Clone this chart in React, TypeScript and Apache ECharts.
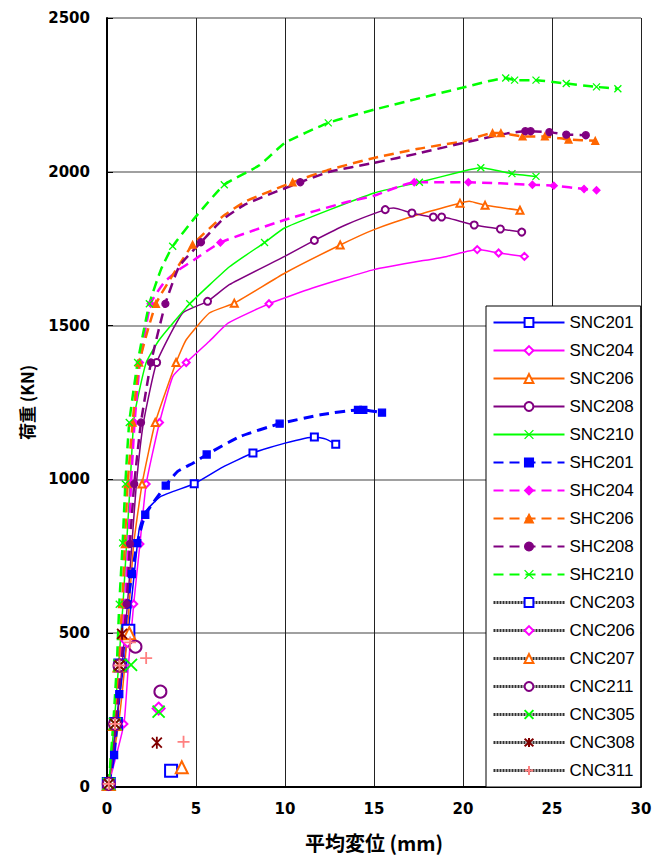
import React, { useEffect, useRef } from "react";
import * as echarts from "echarts";

// x: 平均変位 (mm), y: 荷重 (kN); third value 1 = marked point
const SNC201 = [[0.1,10,1],[0.6,250,0],[1.2,510,1],[1.8,836,0],[2.1,891,0],[3.0,944,0],[4.9,986,1],[6.5,1040,0],[8.2,1086,1],[10,1118,0],[11.65,1138,1],[12.3,1131,0],[12.85,1114,1]];
const SNC204 = [[0.1,10,1],[0.95,205,1],[1.2,395,0],[1.5,595,1],[1.85,790,1],[2.2,985,1],[2.95,1185,1],[3.7,1335,0],[4.45,1380,1],[5.75,1449,0],[6.8,1508,0],[9.1,1571,1],[11.55,1622,0],[15,1682,0],[19.1,1725,0],[20.8,1747,1],[22.0,1736,1],[23.45,1725,1]];
const SNC206 = [[0.1,10,1],[0.65,205,0],[1.0,395,0],[1.25,595,0],[1.5,790,0],[1.97,985,1],[2.71,1185,1],[3.88,1380,1],[4.45,1454,0],[5.75,1541,0],[7.15,1573,1],[10,1671,0],[13.1,1762,1],[15,1812,0],[17.5,1861,0],[19.83,1898,1],[20.35,1904,0],[21.24,1891,1],[23.2,1875,1]];
const SNC208 = [[0.1,10,1],[0.55,205,0],[0.85,395,0],[1.15,595,0],[1.4,790,0],[1.65,985,0],[2.05,1185,0],[2.79,1380,1],[4.25,1541,0],[5.65,1579,1],[6.87,1633,0],[9.98,1725,0],[11.65,1777,1],[13.43,1828,0],[15.63,1877,1],[16.1,1882,0],[17.13,1866,1],[18.33,1853,1],[18.8,1853,1],[20.63,1827,1],[22.1,1814,1],[23.3,1804,1]];
const SNC210 = [[0.1,10,1],[0.4,205,0],[0.65,395,0],[0.9,595,0],[1.1,790,0],[1.3,985,0],[1.53,1205,0],[2.19,1378,0],[2.94,1454,0],[4.65,1571,1],[6.9,1692,0],[8.85,1770,1],[10,1818,0],[15,1931,0],[17.55,1966,1],[19.94,2001,0],[21,2013,1],[22.75,1994,1],[24.1,1985,1]];
const SHC201 = [[0.1,10,1],[0.4,104,1],[0.69,302,1],[1.15,594,1],[1.4,692,1],[1.7,793,1],[2.15,885,1],[3.3,980,1],[3.97,1026,0],[4.9,1055,0],[5.6,1081,1],[7.5,1140,0],[9.7,1181,1],[12,1210,0],[14.1,1226,1],[14.4,1226,1],[15.45,1217,1]];
const SHC204 = [[0.1,10,1],[0.45,205,1],[0.7,395,1],[1.0,595,1],[1.2,790,1],[1.35,985,1],[1.55,1185,1],[1.85,1380,1],[2.45,1571,1],[3.2,1640,0],[4.0,1680,0],[4.9,1714,0],[6.37,1770,1],[10,1844,0],[13.43,1901,0],[15,1922,0],[17.26,1966,1],[20.3,1966,1],[23.9,1958,1],[25.1,1955,1],[26.8,1944,1],[27.5,1940,1]];
const SHC206 = [[0.1,10,1],[0.4,205,1],[0.65,395,1],[0.85,595,1],[1.0,790,1],[1.16,985,1],[1.44,1185,1],[1.81,1380,1],[2.75,1571,1],[3.88,1682,0],[4.81,1763,1],[6.5,1855,0],[7.8,1904,0],[10.43,1966,1],[12.49,2007,0],[15,2045,0],[17.5,2075,0],[19.98,2099,0],[21.66,2126,1],[22.13,2126,1],[23.35,2115,1],[24.6,2115,1],[25.93,2105,1],[27.43,2101,1]];
const SHC208 = [[0.1,10,1],[0.5,205,1],[0.8,395,1],[1.1,595,1],[1.29,790,1],[1.53,985,1],[1.91,1185,1],[2.47,1380,1],[3.28,1571,1],[4.06,1693,0],[5.28,1771,1],[6.5,1845,0],[7.8,1895,0],[10.86,1966,1],[12.5,2000,0],[15,2029,0],[17.5,2060,0],[20,2094,0],[22.5,2125,0],[23.5,2132,1],[23.8,2132,1],[24.85,2129,1],[25.8,2121,1],[26.9,2119,1]];
const SHC210 = [[0.1,10,1],[0.35,205,1],[0.55,395,1],[0.69,594,1],[0.88,793,1],[1.03,985,1],[1.25,1185,1],[1.72,1380,1],[2.38,1571,1],[3.03,1682,0],[3.69,1758,1],[5.0,1855,0],[6.59,1958,1],[8.56,2021,0],[10,2094,0],[12.43,2159,1],[15,2202,0],[19.94,2273,0],[22.4,2305,1],[22.9,2298,1],[24.1,2298,1],[25.8,2287,1],[27.5,2276,1],[28.7,2270,1]];
const CNC203 = [[0.1,10],[0.5,205],[0.75,395],[1.2,508],[3.6,53]];
const CNC206 = [[0.1,10],[0.5,205],[0.75,395],[1.15,475],[2.9,255]];
const CNC207 = [[0.1,10],[0.45,205],[0.7,395],[1.25,500],[4.2,64]];
const CNC211 = [[0.1,10],[0.45,205],[0.7,395],[1.6,456],[3.0,310]];
const CNC305 = [[0.1,10],[0.45,205],[0.7,395],[1.35,397],[2.9,245]];
const CNC308 = [[0.1,10],[0.45,205],[0.7,395],[0.85,498],[2.8,144]];
const CNC311 = [[0.1,10],[0.45,205],[0.7,395],[1.3,470],[2.2,419],[4.3,147]];

const X_TICKS = { min: 0, max: 30, interval: 5 };
const Y_TICKS = { min: 0, max: 2500, interval: 500 };

const BLUE = "#0000ff", MAG = "#ff00ff", ORG = "#ff6600", PUR = "#800080", GRN = "#00ff00", DRED = "#800000", SAL = "#ff8080";
const XSYM = "path://M0,0L10,10M10,0L0,10";
const ASTER = "path://M0,0L10,10M10,0L0,10M5,-1L5,11";
const PLUS = "path://M5,0L5,10M0,5L10,5";

function pts(arr: number[][]) {
  return arr.map((p) => (p[2] === 0 ? { value: [p[0], p[1]], symbol: "none" } : { value: [p[0], p[1]] }));
}

function sSeries(name: string, data: number[][], color: string, symbol: string, dashed: boolean, thick = false) {
  return {
    name,
    type: "line",
    data: pts(data),
    symbol,
    symbolSize: 7,
    symbolKeepAspect: true,
    smooth: 0.15,
    lineStyle: { color, width: dashed ? (thick ? 3 : 2.5) : 1.5, type: dashed ? [10, 6] : "solid" },
    itemStyle: { color, borderColor: color, borderWidth: 1.3 },
    z: 2,
  };
}

function cSeries(name: string, data: number[][], color: string, symbol: string) {
  return {
    name,
    type: "line",
    data,
    symbol,
    symbolSize: 12,
    symbolKeepAspect: true,
    lineStyle: { color: "rgba(0,0,0,0)", width: 3 },
    itemStyle: { color, borderColor: color, borderWidth: 1.8 },
    z: 3,
  };
}

export default function App() {
  const ref = useRef<HTMLDivElement>(null);
  useEffect(() => {
    const chart = echarts.init(ref.current!, undefined, { renderer: "svg" });
    const series = [
      sSeries("SNC201", SNC201, BLUE, "emptyRect", false),
      sSeries("SNC204", SNC204, MAG, "emptyDiamond", false),
      sSeries("SNC206", SNC206, ORG, "emptyTriangle", false),
      sSeries("SNC208", SNC208, PUR, "emptyCircle", false),
      sSeries("SNC210", SNC210, GRN, XSYM, false),
      sSeries("SHC201", SHC201, BLUE, "rect", true, true),
      sSeries("SHC204", SHC204, MAG, "diamond", true),
      sSeries("SHC206", SHC206, ORG, "triangle", true),
      sSeries("SHC208", SHC208, PUR, "circle", true),
      sSeries("SHC210", SHC210, GRN, XSYM, true),
      cSeries("CNC203", CNC203, BLUE, "emptyRect"),
      cSeries("CNC206", CNC206, MAG, "emptyDiamond"),
      cSeries("CNC207", CNC207, ORG, "emptyTriangle"),
      cSeries("CNC211", CNC211, PUR, "emptyCircle"),
      cSeries("CNC305", CNC305, GRN, XSYM),
      cSeries("CNC308", CNC308, DRED, ASTER),
      cSeries("CNC311", CNC311, SAL, PLUS),
    ];
    const legendData = series.map((s) =>
      s.name.startsWith("CNC")
        ? { name: s.name, lineStyle: { color: "#333", width: 3, type: [2, 1] } }
        : { name: s.name, itemStyle: { borderWidth: 1.3 } }
    );
    const tickFont = { fontFamily: "DejaVu Sans", fontWeight: "bold", fontSize: 15, color: "#000" };
    chart.setOption({
      animation: false,
      backgroundColor: "#fff",
      grid: { left: 107, right: 16, top: 18, bottom: 71, containLabel: false },
      xAxis: {
        type: "value",
        ...X_TICKS,
        name: "平均変位 (mm)",
        nameLocation: "middle",
        nameGap: 45,
        nameTextStyle: { fontFamily: "Noto Sans CJK JP", fontWeight: "bold", fontSize: 20, color: "#000" },
        axisLine: { show: true, lineStyle: { color: "#000", width: 2 } },
        axisTick: { show: false },
        axisLabel: { ...tickFont, margin: 14, formatter: (v: number) => String(v) },
        splitLine: { show: true, lineStyle: { color: "#222", width: 1 } },
      },
      yAxis: {
        type: "value",
        ...Y_TICKS,
        name: "荷重 (KN)",
        nameLocation: "middle",
        nameRotate: 90,
        nameGap: 72,
        nameTextStyle: { fontFamily: "Noto Sans CJK JP", fontWeight: "bold", fontSize: 17, color: "#000" },
        axisLine: { show: true, lineStyle: { color: "#000", width: 2 } },
        axisTick: { show: true, inside: true, length: 6, lineStyle: { color: "#000" } },
        axisLabel: { ...tickFont, margin: 17, formatter: (v: number) => String(v) },
        splitLine: { show: true, lineStyle: { color: "#808080", width: 1.5 } },
      },
      legend: {
        orient: "vertical",
        left: 486,
        top: 306,
        itemWidth: 71,
        itemHeight: 11,
        itemGap: 11,
        padding: [8, 6, 8, 6],
        backgroundColor: "#fff",
        borderColor: "#000",
        borderWidth: 1,
        borderRadius: 0,
        textStyle: { fontFamily: "Liberation Sans", fontSize: 17, color: "#000", lineHeight: 17 },
        data: legendData,
      },
      series,
    });
    return () => chart.dispose();
  }, []);
  return <div ref={ref} style={{ width: 657, height: 858, position: "absolute", left: 0, top: 0 }} />;
}
